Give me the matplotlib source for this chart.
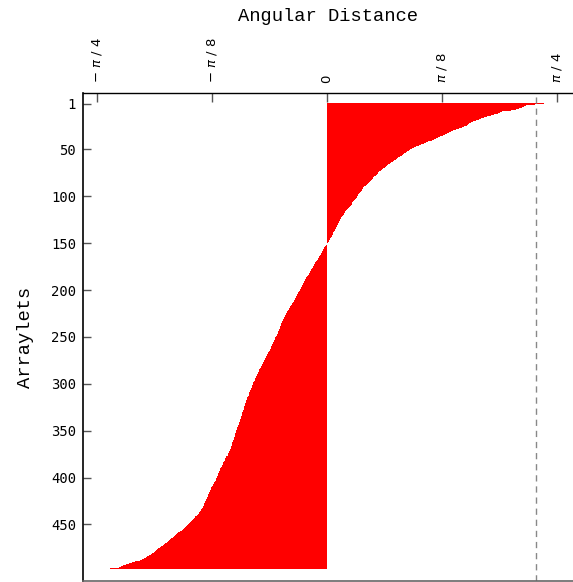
import matplotlib
matplotlib.use("Agg")
import matplotlib.pyplot as plt
import numpy as np

# angular distance per arraylet (radians), sorted
angular_distance = [
    0.741, 0.712, 0.680, 0.672, 0.668, 0.655, 0.646, 0.630, 0.612, 0.600,
    0.592, 0.583, 0.572, 0.560, 0.548, 0.537, 0.527, 0.518, 0.509, 0.500,
    0.492, 0.487, 0.482, 0.478, 0.474, 0.467, 0.460, 0.450, 0.440, 0.430,
    0.424, 0.417, 0.411, 0.405, 0.396, 0.387, 0.378, 0.372, 0.366, 0.360,
    0.354, 0.347, 0.340, 0.332, 0.323, 0.315, 0.306, 0.298, 0.292, 0.285,
    0.279, 0.273, 0.269, 0.264, 0.260, 0.256, 0.252, 0.248, 0.244, 0.239,
    0.235, 0.230, 0.225, 0.220, 0.215, 0.210, 0.206, 0.201, 0.197, 0.193,
    0.189, 0.186, 0.182, 0.179, 0.176, 0.173, 0.170, 0.166, 0.162, 0.159,
    0.156, 0.153, 0.150, 0.147, 0.143, 0.140, 0.136, 0.133, 0.130, 0.127,
    0.124, 0.122, 0.120, 0.119, 0.118, 0.114, 0.110, 0.107, 0.105, 0.103,
    0.101, 0.099, 0.096, 0.093, 0.090, 0.088, 0.087, 0.085, 0.084, 0.081,
    0.077, 0.074, 0.071, 0.069, 0.066, 0.063, 0.061, 0.059, 0.057, 0.055,
    0.053, 0.051, 0.049, 0.048, 0.046, 0.044, 0.042, 0.041, 0.039, 0.037,
    0.035, 0.033, 0.031, 0.030, 0.028, 0.027, 0.025, 0.024, 0.022, 0.021,
    0.019, 0.018, 0.016, 0.014, 0.012, 0.010, 0.008, 0.006, 0.004, 0.001,
    -0.001, -0.003, -0.006, -0.008, -0.009, -0.011, -0.013, -0.014, -0.016, -0.018,
    -0.020, -0.022, -0.024, -0.026, -0.028, -0.030, -0.032, -0.034, -0.036, -0.038,
    -0.040, -0.041, -0.043, -0.045, -0.047, -0.049, -0.051, -0.053, -0.055, -0.057,
    -0.058, -0.060, -0.062, -0.064, -0.066, -0.068, -0.070, -0.072, -0.074, -0.076,
    -0.078, -0.080, -0.081, -0.083, -0.085, -0.086, -0.088, -0.090, -0.091, -0.093,
    -0.095, -0.096, -0.098, -0.100, -0.101, -0.103, -0.105, -0.106, -0.108, -0.110,
    -0.112, -0.114, -0.116, -0.118, -0.120, -0.122, -0.124, -0.126, -0.127, -0.129,
    -0.131, -0.133, -0.135, -0.137, -0.139, -0.141, -0.143, -0.144, -0.146, -0.147,
    -0.149, -0.150, -0.151, -0.153, -0.154, -0.156, -0.157, -0.158, -0.160, -0.161,
    -0.162, -0.164, -0.165, -0.166, -0.168, -0.169, -0.170, -0.172, -0.173, -0.175,
    -0.176, -0.178, -0.179, -0.181, -0.182, -0.184, -0.185, -0.187, -0.188, -0.190,
    -0.191, -0.193, -0.194, -0.196, -0.198, -0.199, -0.201, -0.203, -0.204, -0.206,
    -0.208, -0.209, -0.211, -0.213, -0.214, -0.216, -0.217, -0.219, -0.221, -0.222,
    -0.224, -0.226, -0.227, -0.229, -0.231, -0.232, -0.234, -0.235, -0.237, -0.239,
    -0.240, -0.242, -0.243, -0.245, -0.246, -0.247, -0.249, -0.250, -0.252, -0.253,
    -0.254, -0.256, -0.257, -0.258, -0.260, -0.261, -0.262, -0.263, -0.265, -0.266,
    -0.267, -0.268, -0.270, -0.271, -0.272, -0.274, -0.275, -0.276, -0.277, -0.278,
    -0.279, -0.280, -0.281, -0.282, -0.283, -0.284, -0.285, -0.286, -0.287, -0.288,
    -0.289, -0.290, -0.291, -0.292, -0.293, -0.294, -0.295, -0.296, -0.297, -0.298,
    -0.300, -0.301, -0.302, -0.303, -0.304, -0.305, -0.306, -0.307, -0.309, -0.310,
    -0.311, -0.312, -0.313, -0.314, -0.315, -0.316, -0.317, -0.318, -0.319, -0.320,
    -0.321, -0.322, -0.323, -0.324, -0.325, -0.326, -0.327, -0.328, -0.329, -0.330,
    -0.332, -0.334, -0.335, -0.337, -0.339, -0.340, -0.342, -0.344, -0.345, -0.347,
    -0.349, -0.350, -0.352, -0.354, -0.355, -0.357, -0.358, -0.360, -0.362, -0.364,
    -0.365, -0.366, -0.368, -0.369, -0.370, -0.372, -0.373, -0.374, -0.376, -0.377,
    -0.378, -0.380, -0.381, -0.383, -0.385, -0.386, -0.388, -0.390, -0.392, -0.393,
    -0.395, -0.397, -0.398, -0.400, -0.401, -0.402, -0.404, -0.405, -0.406, -0.408,
    -0.409, -0.410, -0.412, -0.413, -0.415, -0.416, -0.418, -0.419, -0.421, -0.422,
    -0.424, -0.425, -0.427, -0.429, -0.431, -0.434, -0.437, -0.439, -0.442, -0.445,
    -0.447, -0.450, -0.452, -0.455, -0.458, -0.461, -0.464, -0.467, -0.470, -0.474,
    -0.477, -0.481, -0.484, -0.488, -0.492, -0.496, -0.500, -0.504, -0.508, -0.512,
    -0.516, -0.520, -0.524, -0.528, -0.532, -0.536, -0.540, -0.544, -0.548, -0.552,
    -0.556, -0.560, -0.564, -0.568, -0.572, -0.576, -0.580, -0.584, -0.588, -0.592,
    -0.597, -0.602, -0.608, -0.614, -0.620, -0.626, -0.633, -0.640, -0.648, -0.656,
    -0.668, -0.678, -0.688, -0.697, -0.705, -0.712, -0.740,
]
arraylet = np.arange(1, len(angular_distance) + 1)

threshold = 0.715  # dashed reference line

x_ticks = [-np.pi / 4, -np.pi / 8, 0, np.pi / 8, np.pi / 4]
x_tick_labels = [r'$-\ \pi\ /\ 4$', r'$-\ \pi\ /\ 8$', '0', r'$\pi\ /\ 8$', r'$\pi\ /\ 4$']
y_ticks = [1, 50, 100, 150, 200, 250, 300, 350, 400, 450]

fig = plt.figure(figsize=(5.73, 5.82), dpi=100)
ax = fig.add_axes([83 / 573, 1.3 / 582, 490 / 573, 487.5 / 582])

ax.barh(arraylet, angular_distance, height=1.0, color='#ff0000', linewidth=0)
ax.axvline(threshold, color='#888888', linewidth=1.0, linestyle=(0, (4.5, 3.5)))

ax.set_xlim(-0.834, 0.841)
ax.set_ylim(510, -10)

ax.xaxis.tick_top()
ax.xaxis.set_label_position('top')
ax.set_xticks(x_ticks)
ax.set_xticklabels(x_tick_labels, rotation=90, fontsize=9.5, family=['DejaVu Sans'])
ax.set_yticks(y_ticks)
ax.set_yticklabels([str(t) for t in y_ticks], fontsize=10, family=['DejaVu Sans Mono'])
ax.tick_params(axis='x', direction='in', length=6.5, width=1, color='#555555', pad=7)
ax.tick_params(axis='y', direction='in', length=6, width=1, color='#555555', pad=5)

ax.set_xlabel('Angular Distance', fontsize=13.5, family=['Liberation Mono'], labelpad=12)
ax.set_ylabel('Arraylets', fontsize=13.5, family=['Liberation Mono'], labelpad=12)

ax.spines['right'].set_visible(False)
ax.spines['bottom'].set_color('#666666')
ax.spines['bottom'].set_linewidth(1.2)
ax.spines['left'].set_linewidth(1.2)
ax.spines['top'].set_linewidth(1.0)

plt.savefig('out.png', dpi=100)
